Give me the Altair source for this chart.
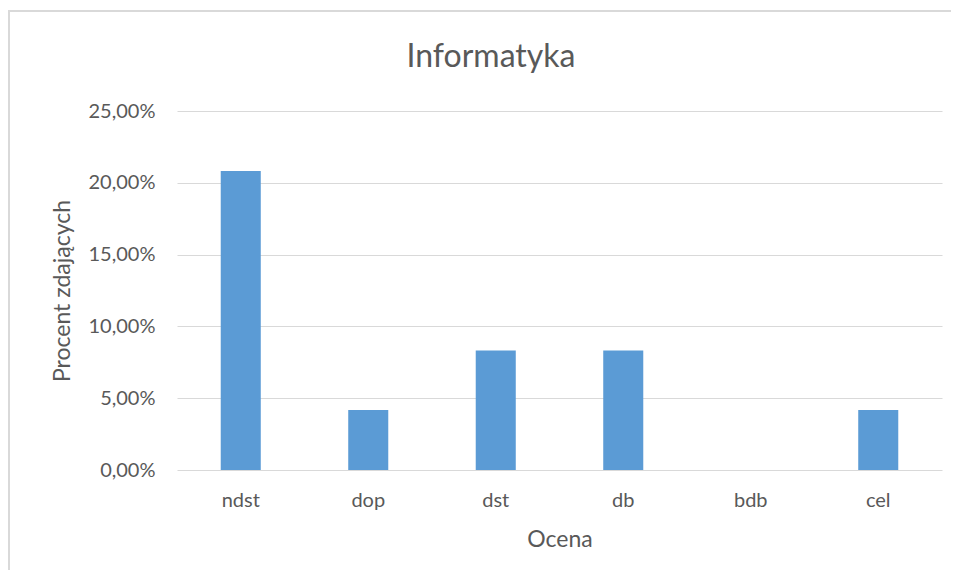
import altair as alt
import pandas as pd

categories = ["ndst", "dop", "dst", "db", "bdb", "cel"]
values = [0.2083, 0.0417, 0.0833, 0.0833, 0.0, 0.0417]
y_ticks = [0.0, 0.05, 0.10, 0.15, 0.20, 0.25]
title_text = ["Informatyka"]

df = pd.DataFrame({"Ocena": categories, "Procent": values})
df_title = pd.DataFrame({"t": title_text})

FONT = "Lato"
GRAY = "#595959"
W, H = 765, 359
PL, PT = 169, 103

bars = alt.Chart(df).mark_bar(color="#5B9BD5").encode(
    x=alt.X("Ocena:N", sort=categories,
            scale=alt.Scale(paddingInner=0.686, paddingOuter=0.343),
            axis=alt.Axis(title="Ocena", labelAngle=0, domain=False, ticks=False,
                          labelPadding=20, titlePadding=18, labelFontSize=20,
                          titleFontSize=23, labelColor=GRAY, titleColor=GRAY,
                          labelFont=FONT, titleFont=FONT, titleFontWeight="normal")),
    y=alt.Y("Procent:Q", scale=alt.Scale(domain=[0, 0.25]),
            axis=alt.Axis(title="Procent zdających", values=y_ticks,
                          labelExpr="replace(format(datum.value, '.2%'), '.', ',')",
                          domain=False, ticks=False, grid=True, gridColor="#D9D9D9",
                          gridWidth=1, labelPadding=22, titlePadding=14,
                          labelFontSize=20, titleFontSize=23, labelColor=GRAY,
                          titleColor=GRAY, labelFont=FONT, titleFont=FONT,
                          titleFontWeight="normal")),
)

title = alt.Chart(df_title).mark_text(
    font=FONT, fontSize=32, color=GRAY, align="center", baseline="middle", clip=False
).encode(text="t:N", x=alt.value(314), y=alt.value(-54))

border_top = alt.Chart(df).mark_rule(color="#D9D9D9", strokeWidth=1.5, clip=False).encode(
    x=alt.value(-PL), x2=alt.value(W + 9), y=alt.value(-PT + 3))
border_left = alt.Chart(df).mark_rule(color="#D9D9D9", strokeWidth=1.5, clip=False).encode(
    x=alt.value(-PL + 1), y=alt.value(-PT + 3), y2=alt.value(H + 100))

chart = alt.layer(bars, title, border_top, border_left).properties(
    width=W, height=H,
    padding={"left": PL, "top": PT, "right": 9, "bottom": 100},
    autosize=alt.AutoSizeParams(type="none"),
).configure_view(stroke=None)

chart.save("out.html", embed_options={"renderer": "svg", "actions": False})
